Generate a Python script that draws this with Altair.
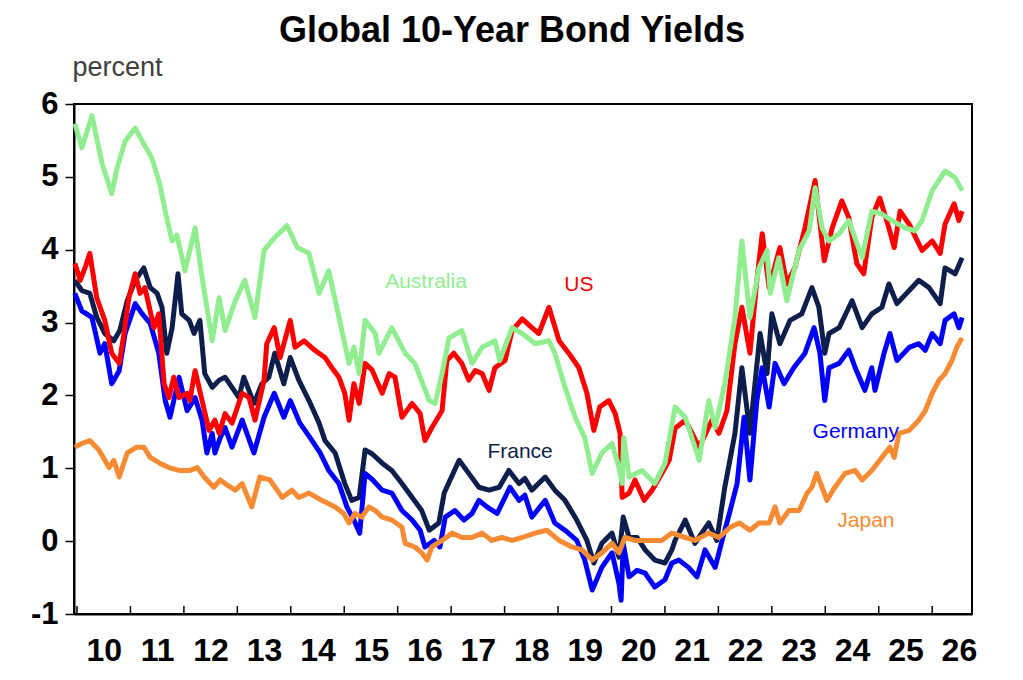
import altair as alt
import pandas as pd

# ---------------- data ----------------
aus_year = [2009.96, 2010.09, 2010.28, 2010.47, 2010.65, 2010.75, 2010.90, 2011.09, 2011.25, 2011.40,
            2011.55, 2011.65, 2011.78, 2011.87, 2012.02, 2012.21, 2012.34, 2012.53, 2012.66, 2012.77,
            2012.96, 2013.14, 2013.33, 2013.50, 2013.69, 2013.93, 2014.12, 2014.34, 2014.53, 2014.71,
            2014.86, 2015.09, 2015.18, 2015.28, 2015.39, 2015.58, 2015.65, 2015.89, 2016.14, 2016.32,
            2016.59, 2016.70, 2016.83, 2016.96, 2017.20, 2017.39, 2017.58, 2017.82, 2017.91, 2018.14,
            2018.33, 2018.57, 2018.83, 2018.94, 2019.13, 2019.32, 2019.50, 2019.64, 2019.82, 2020.01,
            2020.14, 2020.20, 2020.23, 2020.33, 2020.57, 2020.81, 2021.00, 2021.19, 2021.38, 2021.64,
            2021.82, 2021.94, 2022.12, 2022.31, 2022.44, 2022.59, 2022.76, 2022.91, 2022.97, 2023.13,
            2023.28, 2023.51, 2023.70, 2023.81, 2023.94, 2024.07, 2024.26, 2024.44, 2024.69, 2024.87,
            2025.06, 2025.25, 2025.49, 2025.68, 2025.81, 2026.00, 2026.24, 2026.43, 2026.56]
aus_val = [5.73, 5.40, 5.84, 5.18, 4.77, 5.12, 5.49, 5.67, 5.45, 5.26,
           4.90, 4.53, 4.12, 4.20, 3.71, 4.30, 3.62, 2.75, 3.34, 2.89,
           3.30, 3.58, 3.07, 3.99, 4.16, 4.33, 4.03, 3.95, 3.40, 3.71,
           3.21, 2.44, 2.66, 2.30, 3.03, 2.85, 2.58, 2.93, 2.58, 2.44,
           1.93, 1.89, 2.30, 2.79, 2.89, 2.44, 2.66, 2.75, 2.48, 2.93,
           2.85, 2.71, 2.75, 2.58, 2.11, 1.70, 1.42, 0.93, 1.21, 1.34,
           1.01, 0.79, 1.42, 0.88, 0.97, 0.79, 1.07, 1.84, 1.70, 1.11,
           1.93, 1.56, 2.16, 3.07, 4.12, 3.07, 3.75, 3.99, 3.40, 3.89,
           3.30, 3.99, 4.26, 4.85, 4.30, 4.12, 4.22, 4.40, 3.89, 4.53,
           4.49, 4.40, 4.30, 4.26, 4.40, 4.81, 5.08, 4.99, 4.81]

us_year = [2009.96, 2010.06, 2010.15, 2010.24, 2010.37, 2010.52, 2010.65, 2010.79, 2010.88, 2010.97,
           2011.09, 2011.18, 2011.27, 2011.44, 2011.53, 2011.63, 2011.72, 2011.81, 2011.91, 2012.06,
           2012.11, 2012.21, 2012.34, 2012.47, 2012.58, 2012.66, 2012.77, 2012.90, 2013.09, 2013.22,
           2013.33, 2013.50, 2013.55, 2013.69, 2013.80, 2013.99, 2014.08, 2014.25, 2014.45, 2014.64,
           2014.77, 2014.90, 2015.01, 2015.09, 2015.18, 2015.28, 2015.39, 2015.52, 2015.71, 2015.84,
           2015.95, 2016.08, 2016.27, 2016.42, 2016.51, 2016.64, 2016.83, 2016.92, 2017.05, 2017.20,
           2017.33, 2017.45, 2017.58, 2017.71, 2017.82, 2018.01, 2018.14, 2018.33, 2018.51, 2018.64,
           2018.83, 2019.02, 2019.20, 2019.39, 2019.54, 2019.67, 2019.78, 2019.95, 2020.07, 2020.16,
           2020.20, 2020.33, 2020.44, 2020.61, 2020.76, 2020.94, 2021.08, 2021.19, 2021.38, 2021.64,
           2021.88, 2022.01, 2022.16, 2022.31, 2022.44, 2022.59, 2022.72, 2022.82, 2022.95, 2023.15,
           2023.28, 2023.43, 2023.62, 2023.81, 2023.98, 2024.13, 2024.31, 2024.44, 2024.59, 2024.72,
           2024.87, 2025.02, 2025.19, 2025.29, 2025.40, 2025.57, 2025.81, 2026.00, 2026.15, 2026.24,
           2026.41, 2026.50, 2026.56]
us_val = [3.81, 3.58, 3.75, 3.95, 3.34, 3.03, 2.58, 2.44, 2.85, 3.34,
          3.67, 3.40, 3.48, 2.93, 3.12, 2.16, 1.97, 2.25, 1.97, 2.03,
          1.93, 2.34, 1.93, 1.52, 1.66, 1.48, 1.75, 1.62, 2.03, 1.97,
          1.66, 2.21, 2.71, 2.93, 2.52, 3.03, 2.66, 2.75, 2.62, 2.52,
          2.38, 2.25, 2.03, 1.66, 2.16, 1.89, 2.44, 2.35, 2.03, 2.30,
          2.25, 1.70, 1.89, 1.75, 1.38, 1.56, 1.79, 2.48, 2.58, 2.44,
          2.21, 2.34, 2.30, 2.07, 2.38, 2.48, 2.89, 3.05, 2.93, 2.85,
          3.21, 2.75, 2.58, 2.38, 2.03, 1.52, 1.84, 1.93, 1.75, 1.48,
          0.60, 0.66, 0.84, 0.56, 0.70, 0.93, 1.11, 1.55, 1.66, 1.29,
          1.66, 1.48, 1.79, 2.71, 3.21, 2.58, 3.58, 4.22, 3.48, 4.03,
          3.53, 3.75, 4.30, 4.95, 3.85, 4.30, 4.67, 4.44, 3.81, 3.67,
          4.44, 4.71, 4.30, 4.03, 4.53, 4.35, 3.99, 4.12, 3.95, 4.35,
          4.63, 4.40, 4.53]

fr_year = [2009.96, 2010.09, 2010.24, 2010.37, 2010.52, 2010.69, 2010.80, 2010.94, 2011.09, 2011.25,
           2011.37, 2011.50, 2011.59, 2011.68, 2011.78, 2011.89, 2011.96, 2012.10, 2012.19, 2012.30,
           2012.39, 2012.53, 2012.66, 2012.77, 2012.90, 2013.03, 2013.12, 2013.31, 2013.46, 2013.59,
           2013.70, 2013.87, 2013.99, 2014.15, 2014.34, 2014.53, 2014.64, 2014.83, 2015.01, 2015.14,
           2015.28, 2015.39, 2015.52, 2015.71, 2015.89, 2016.08, 2016.27, 2016.45, 2016.59, 2016.77,
           2016.87, 2016.98, 2017.15, 2017.33, 2017.52, 2017.71, 2017.90, 2018.08, 2018.27, 2018.38,
           2018.51, 2018.76, 2018.94, 2019.13, 2019.35, 2019.54, 2019.67, 2019.82, 2020.01, 2020.14,
           2020.22, 2020.33, 2020.48, 2020.63, 2020.81, 2021.00, 2021.13, 2021.19, 2021.38, 2021.56,
           2021.82, 2021.97, 2022.12, 2022.31, 2022.44, 2022.59, 2022.78, 2022.91, 2023.00, 2023.15,
           2023.34, 2023.56, 2023.75, 2023.88, 2023.99, 2024.07, 2024.26, 2024.50, 2024.69, 2024.87,
           2025.06, 2025.19, 2025.34, 2025.57, 2025.75, 2025.94, 2026.15, 2026.24, 2026.43, 2026.56]
fr_val = [3.58, 3.44, 3.40, 3.07, 2.85, 2.75, 2.89, 3.30, 3.58, 3.75,
          3.48, 3.40, 3.21, 2.58, 2.93, 3.67, 3.12, 3.03, 2.85, 3.03,
          2.30, 2.11, 2.21, 2.25, 2.11, 1.97, 2.25, 1.89, 2.16, 2.25,
          2.58, 2.16, 2.52, 2.21, 1.93, 1.62, 1.38, 1.21, 0.79, 0.56,
          0.60, 1.25, 1.20, 1.07, 0.97, 0.79, 0.60, 0.42, 0.15, 0.25,
          0.66, 0.84, 1.11, 0.93, 0.74, 0.70, 0.74, 0.97, 0.79, 0.86,
          0.70, 0.88, 0.70, 0.56, 0.29, 0.01, -0.30, -0.03, 0.11, -0.22,
          0.33, 0.05, 0.05, -0.12, -0.26, -0.30, -0.12, 0.01, 0.29, -0.03,
          0.25, 0.01, 0.74, 1.48, 2.38, 1.48, 2.85, 2.30, 3.12, 2.71,
          3.03, 3.12, 3.48, 3.21, 2.58, 2.85, 2.93, 3.30, 2.93, 3.12,
          3.21, 3.53, 3.26, 3.44, 3.58, 3.48, 3.26, 3.75, 3.67, 3.89]

de_year = [2009.96, 2010.09, 2010.28, 2010.43, 2010.52, 2010.65, 2010.79, 2010.90, 2011.09, 2011.22,
           2011.37, 2011.53, 2011.65, 2011.74, 2011.91, 2012.06, 2012.21, 2012.34, 2012.43, 2012.53,
           2012.58, 2012.68, 2012.77, 2012.90, 2013.09, 2013.31, 2013.50, 2013.69, 2013.87, 2013.99,
           2014.17, 2014.36, 2014.55, 2014.71, 2014.90, 2015.05, 2015.18, 2015.29, 2015.39, 2015.52,
           2015.71, 2015.89, 2016.08, 2016.27, 2016.42, 2016.51, 2016.68, 2016.79, 2016.89, 2017.07,
           2017.24, 2017.39, 2017.52, 2017.67, 2017.86, 2018.10, 2018.27, 2018.38, 2018.51, 2018.76,
           2018.94, 2019.13, 2019.35, 2019.50, 2019.64, 2019.82, 2020.01, 2020.14, 2020.18, 2020.22,
           2020.33, 2020.48, 2020.63, 2020.81, 2021.00, 2021.13, 2021.26, 2021.44, 2021.60, 2021.75,
           2021.94, 2022.07, 2022.22, 2022.35, 2022.48, 2022.59, 2022.72, 2022.82, 2022.95, 2023.06,
           2023.23, 2023.41, 2023.62, 2023.79, 2023.90, 2023.99, 2024.07, 2024.26, 2024.44, 2024.56,
           2024.74, 2024.87, 2024.93, 2025.10, 2025.21, 2025.34, 2025.57, 2025.75, 2025.87, 2026.00,
           2026.15, 2026.24, 2026.41, 2026.50, 2026.56]
de_val = [3.40, 3.16, 3.07, 2.58, 2.71, 2.16, 2.34, 2.85, 3.26, 3.12,
          2.99, 2.58, 1.93, 1.70, 2.25, 1.79, 1.97, 1.66, 1.21, 1.48,
          1.21, 1.42, 1.56, 1.29, 1.66, 1.21, 1.70, 2.03, 1.70, 1.93,
          1.62, 1.42, 1.21, 0.97, 0.79, 0.47, 0.29, 0.11, 0.93, 0.85,
          0.70, 0.66, 0.42, 0.29, 0.15, -0.08, 0.01, -0.08, 0.33, 0.42,
          0.29, 0.38, 0.56, 0.47, 0.38, 0.74, 0.56, 0.63, 0.33, 0.56,
          0.25, 0.15, 0.01, -0.26, -0.67, -0.36, -0.16, -0.58, -0.81, -0.03,
          -0.49, -0.40, -0.44, -0.63, -0.53, -0.30, -0.26, -0.36, -0.49, -0.12,
          -0.36, 0.01, 0.42, 0.79, 1.70, 0.84, 1.93, 2.38, 1.84, 2.44,
          2.16, 2.38, 2.58, 2.93, 2.58, 1.93, 2.38, 2.44, 2.62, 2.38,
          2.07, 2.38, 2.07, 2.58, 2.85, 2.48, 2.66, 2.71, 2.62, 2.85,
          2.71, 3.03, 3.12, 2.93, 3.07]

jp_year = [2009.96, 2010.09, 2010.24, 2010.41, 2010.60, 2010.69, 2010.79, 2010.94, 2011.12, 2011.25,
           2011.37, 2011.55, 2011.72, 2011.91, 2012.11, 2012.25, 2012.38, 2012.56, 2012.68, 2012.77,
           2012.96, 2013.09, 2013.27, 2013.42, 2013.61, 2013.84, 2014.02, 2014.15, 2014.34, 2014.58,
           2014.83, 2014.99, 2015.09, 2015.20, 2015.33, 2015.46, 2015.58, 2015.71, 2015.89, 2016.08,
           2016.14, 2016.32, 2016.45, 2016.55, 2016.64, 2016.83, 2017.02, 2017.20, 2017.39, 2017.58,
           2017.76, 2017.95, 2018.14, 2018.33, 2018.57, 2018.79, 2019.02, 2019.26, 2019.45, 2019.64,
           2019.82, 2020.01, 2020.14, 2020.25, 2020.44, 2020.70, 2020.94, 2021.13, 2021.38, 2021.56,
           2021.82, 2022.01, 2022.22, 2022.39, 2022.59, 2022.76, 2022.95, 2023.06, 2023.15, 2023.32,
           2023.51, 2023.66, 2023.75, 2023.84, 2023.94, 2024.03, 2024.18, 2024.37, 2024.56, 2024.69,
           2024.87, 2025.06, 2025.21, 2025.29, 2025.38, 2025.57, 2025.75, 2025.87, 2026.00, 2026.13,
           2026.24, 2026.37, 2026.46, 2026.56]
jp_val = [1.29, 1.34, 1.38, 1.25, 1.01, 1.11, 0.88, 1.21, 1.29, 1.29,
          1.15, 1.07, 1.01, 0.97, 0.97, 1.01, 0.88, 0.74, 0.84, 0.79,
          0.70, 0.79, 0.47, 0.88, 0.84, 0.60, 0.70, 0.60, 0.66, 0.56,
          0.47, 0.38, 0.25, 0.38, 0.33, 0.47, 0.42, 0.33, 0.29, 0.19,
          -0.03, -0.08, -0.16, -0.26, -0.08, 0.01, 0.11, 0.05, 0.05, 0.11,
          0.01, 0.05, 0.01, 0.05, 0.11, 0.15, 0.01, -0.08, -0.12, -0.26,
          -0.16, -0.03, -0.16, 0.05, 0.01, 0.01, 0.01, 0.11, 0.05, 0.01,
          0.11, 0.05, 0.19, 0.25, 0.15, 0.25, 0.25, 0.47, 0.25, 0.42,
          0.42, 0.66, 0.74, 0.93, 0.74, 0.56, 0.74, 0.93, 0.97, 0.84,
          0.97, 1.15, 1.29, 1.15, 1.48, 1.52, 1.66, 1.79, 2.03, 2.21,
          2.30, 2.48, 2.66, 2.79]

series_names = ["France", "Germany", "Japan", "US", "Australia"]   # drawing order, bottom to top
series_colors = ["#0E1E4C", "#0000FF", "#F68B33", "#FF0000", "#90EE90"]

label_text = ["Australia", "US", "France", "Germany", "Japan"]
label_year = [2016.53, 2019.39, 2018.29, 2024.57, 2024.76]
label_val = [3.48, 3.44, 1.14, 1.42, 0.19]
label_colors = ["#90EE90", "#FF0000", "#0E1E4C", "#0000FF", "#F68B33"]

tick_years = list(range(2010, 2027))
y_ticks = [-1, 0, 1, 2, 3, 4, 5, 6]

# ---------------- build tables ----------------
series_data = {
    "Australia": (aus_year, aus_val),
    "US": (us_year, us_val),
    "France": (fr_year, fr_val),
    "Germany": (de_year, de_val),
    "Japan": (jp_year, jp_val),
}
rows = []
for name, (yrs, vals) in series_data.items():
    for i, (yr, v) in enumerate(zip(yrs, vals)):
        rows.append({"series": name, "year": yr, "value": v, "idx": i})
df = pd.DataFrame(rows)
labels_df = pd.DataFrame({"text": label_text, "year": label_year, "value": label_val,
                          "color": label_colors})
ticks_df = pd.DataFrame({"year": tick_years})

FONT = "Liberation Sans"

x_scale = alt.Scale(domain=[2009.944, 2026.745], nice=False, zero=False)
y_scale = alt.Scale(domain=[-1, 6], nice=False, zero=False)

x_axis = alt.Axis(values=tick_years, ticks=False, tickSize=0, grid=False,
                  labelExpr="substring(toString(datum.value), 2, 4)",
                  labelOffset=26.7, labelPadding=21, labelFontSize=32,
                  labelFontWeight="bold", labelColor="black", labelFont=FONT,
                  domainColor="black", domainWidth=2, title=None, labelFlush=False,
                  labelOverlap=False)
y_axis = alt.Axis(values=y_ticks, labelExpr="toString(datum.value)", grid=False, tickSize=9,
                  tickColor="black", tickWidth=1.5, labelPadding=7, labelFontSize=31,
                  labelFontWeight="bold", labelColor="black", labelFont=FONT,
                  domainColor="black", domainWidth=2,
                  title="percent", titleAngle=0, titleAlign="left", titleBaseline="alphabetic",
                  titleX=-2, titleY=-29, titleFontSize=27, titleFontWeight="normal",
                  titleColor="#404040", titleFont=FONT)

X = alt.X("year:Q", scale=x_scale, axis=x_axis)
Y = alt.Y("value:Q", scale=y_scale, axis=y_axis)

layers = []
for name, col in zip(series_names, series_colors):
    layers.append(
        alt.Chart(df).transform_filter(alt.datum.series == name)
        .mark_line(color=col, strokeWidth=5, strokeJoin="round")
        .encode(x=X, y=Y, order="idx:Q")
    )

ticks = alt.Chart(ticks_df).mark_rule(color="black", strokeWidth=1.5).encode(
    x=alt.X("year:Q", scale=x_scale, axis=x_axis),
    y=alt.datum(-1, scale=y_scale),
    y2=alt.datum(-0.89),
)

text = alt.Chart(labels_df).mark_text(font=FONT, fontSize=21, align="center",
                                      baseline="alphabetic").encode(
    x=X, y=Y, text="text:N", color=alt.Color("color:N", scale=None)
)

chart = alt.layer(*layers, ticks, text).properties(
    width=898, height=510,
    title=alt.TitleParams("Global 10-Year Bond Yields", font=FONT, fontSize=36,
                          fontWeight="bold", color="black", anchor="middle",
                          dx=-11, offset=3),
    autosize=alt.AutoSizeParams(type="none"),
    padding={"left": 74, "top": 104, "right": 51, "bottom": 66},
    background="white",
).configure_view(stroke="black", strokeWidth=2)

chart.save("out.html", embed_options={"renderer": "svg", "actions": False})
